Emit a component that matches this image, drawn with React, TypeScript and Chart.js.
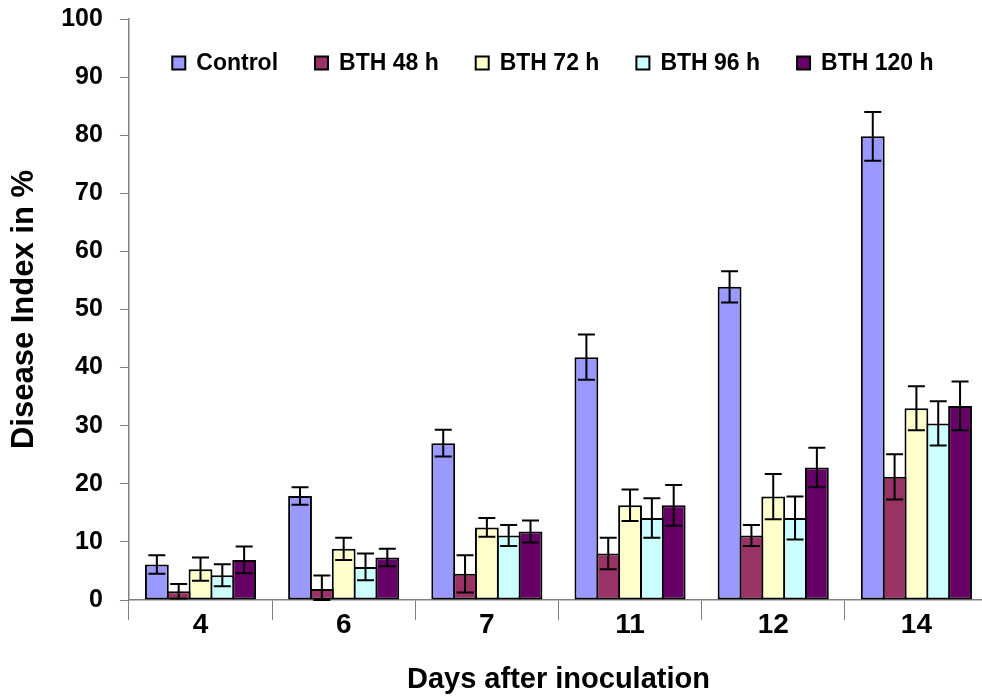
import React, { useEffect, useRef } from "react";
import { Chart, registerables } from "chart.js";

Chart.register(...registerables);

const categories = ["4", "6", "7", "11", "12", "14"];
const seriesNames = ["Control", "BTH 48 h", "BTH 72 h", "BTH 96 h", "BTH 120 h"];

const control = [6.1, 17.9, 27.0, 41.8, 53.9, 79.8];
const controlErr = [1.6, 1.5, 2.3, 3.9, 2.7, 4.2];
const bth48 = [1.5, 1.9, 4.5, 8.0, 11.1, 21.2];
const bth48Err = [1.25, 2.3, 3.2, 2.7, 1.8, 3.9];
const bth72 = [5.3, 8.8, 12.5, 16.3, 17.8, 33.0];
const bth72Err = [2.0, 1.9, 1.6, 2.7, 3.9, 3.8];
const bth96 = [4.25, 5.7, 11.1, 14.1, 14.1, 30.4];
const bth96Err = [1.9, 2.3, 1.8, 3.4, 3.7, 3.8];
const bth120 = [6.9, 7.3, 11.8, 16.3, 22.8, 33.4];
const bth120Err = [2.3, 1.5, 1.9, 3.5, 3.4, 4.2];

const yTicks = { min: 0, max: 100, step: 10 };

const colors = ["#9999FF", "#993366", "#FFFFCC", "#CCFFFF", "#660066"];
const FONT = "'Liberation Sans', Arial, sans-serif";

const errorBarPlugin = {
  id: "errorBars",
  afterDatasetsDraw(chart: any) {
    const ctx = chart.ctx;
    const y = chart.scales.y;
    chart.data.datasets.forEach((ds: any, i: number) => {
      const meta = chart.getDatasetMeta(i);
      meta.data.forEach((bar: any, j: number) => {
        const v = ds.data[j];
        const e = ds.errors[j];
        const top = y.getPixelForValue(v + e);
        const bot = y.getPixelForValue(Math.max(y.min, v - e));
        const hw = 8.5;
        ctx.save();
        ctx.strokeStyle = "#000";
        ctx.lineWidth = 2;
        ctx.beginPath();
        ctx.moveTo(bar.x, top);
        ctx.lineTo(bar.x, bot);
        ctx.moveTo(bar.x - hw, top);
        ctx.lineTo(bar.x + hw, top);
        ctx.moveTo(bar.x - hw, bot);
        ctx.lineTo(bar.x + hw, bot);
        ctx.stroke();
        ctx.restore();
      });
    });
  },
};

// Legend drawn inside the plot area, in one row near the top
const innerLegendPlugin = {
  id: "innerLegend",
  afterDraw(chart: any) {
    const ctx = chart.ctx;
    const area = chart.chartArea;
    const fontSize = 23;
    const box = 13;
    const boxGap = 11;
    const itemGap = 37;
    ctx.save();
    ctx.font = `bold ${fontSize}px ${FONT}`;
    const items = chart.data.datasets.map((ds: any) => {
      const w = ctx.measureText(ds.label).width;
      return { label: ds.label, color: ds.backgroundColor, w: box + boxGap + w };
    });
    const total = items.reduce((s: number, it: any) => s + it.w, 0) + itemGap * (items.length - 1);
    const centerX = area.left + 424;
    const cy = area.top + 44;
    let x = centerX - total / 2;
    items.forEach((it: any) => {
      ctx.fillStyle = it.color;
      ctx.fillRect(x, cy - box / 2, box, box);
      ctx.strokeStyle = "#000";
      ctx.lineWidth = 2;
      ctx.strokeRect(x, cy - box / 2, box, box);
      ctx.fillStyle = "#000";
      ctx.textBaseline = "middle";
      ctx.textAlign = "left";
      ctx.fillText(it.label, x + box + boxGap, cy + 1);
      x += it.w + itemGap;
    });
    ctx.restore();
  },
};

export default function App() {
  const ref = useRef<HTMLCanvasElement | null>(null);

  useEffect(() => {
    if (!ref.current) return;
    const values = [control, bth48, bth72, bth96, bth120];
    const errs = [controlErr, bth48Err, bth72Err, bth96Err, bth120Err];
    const chart = new Chart(ref.current, {
      type: "bar",
      data: {
        labels: categories,
        datasets: seriesNames.map((name, i) => ({
          label: name,
          data: values[i],
          errors: errs[i],
          backgroundColor: colors[i],
          borderColor: "#000",
          borderWidth: 2,
          borderSkipped: false,
          categoryPercentage: 0.762,
          barPercentage: 1.092,
        })) as any,
      },
      options: {
        animation: false,
        responsive: true,
        maintainAspectRatio: false,
        layout: { padding: { left: 0, right: 2, top: 19, bottom: 0 } },
        plugins: {
          tooltip: { enabled: false },
          legend: { display: false },
        },
        scales: {
          x: {
            grid: {
              offset: true,
              drawOnChartArea: false,
              tickLength: 20,
              color: "#808080",
              lineWidth: 1,
            },
            border: { color: "#808080", width: 1.5 },
            ticks: {
              color: "#000",
              padding: -12,
              font: { family: FONT, size: 28, weight: "bold" },
            },
            title: {
              display: true,
              text: "Days after inoculation",
              color: "#000",
              padding: { top: 32.6, bottom: 0 },
              font: { family: FONT, size: 29, weight: "bold" },
            },
          },
          y: {
            min: yTicks.min,
            max: yTicks.max,
            afterFit: (scale: any) => {
              scale.paddingTop = 0;
            },
            grid: {
              drawOnChartArea: false,
              tickLength: 9,
              color: "#808080",
              lineWidth: 1,
            },
            border: { color: "#808080", width: 1.5 },
            ticks: {
              stepSize: yTicks.step,
              color: "#000",
              padding: 17,
              font: { family: FONT, size: 25, weight: "bold" },
            },
            title: {
              display: true,
              text: "Disease Index in %",
              color: "#000",
              padding: { top: 6, bottom: 1 },
              font: { family: FONT, size: 31, weight: "bold" },
            },
          },
        },
      },
      plugins: [errorBarPlugin, innerLegendPlugin],
    });
    return () => chart.destroy();
  }, []);

  return (
    <div
      style={{
        position: "fixed",
        left: 0,
        top: 0,
        width: 982,
        height: 697,
        overflow: "hidden",
        background: "#fff",
      }}
    >
      <div style={{ position: "relative", width: 990, height: 697 }}>
        <canvas ref={ref} />
      </div>
    </div>
  );
}
